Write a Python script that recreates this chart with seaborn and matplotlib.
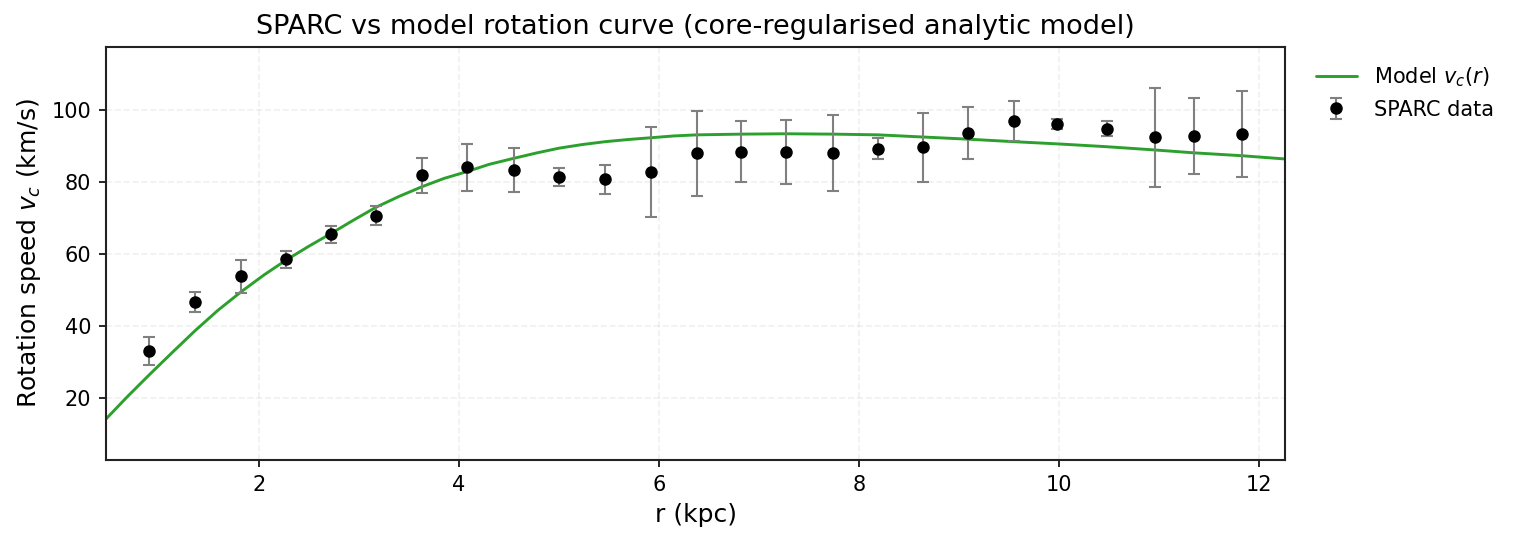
import numpy as np
import pandas as pd
import matplotlib
matplotlib.use("Agg")
import matplotlib.pyplot as plt
import seaborn as sns

r_data = [0.90, 1.36, 1.82, 2.27, 2.72, 3.17, 3.63, 4.08, 4.55, 5.00, 5.46, 5.92, 6.38,
          6.82, 7.27, 7.74, 8.19, 8.64, 9.09, 9.55, 9.98, 10.48, 10.96, 11.35, 11.83]
v_data = [33.0, 46.6, 53.8, 58.5, 65.5, 70.7, 81.9, 84.1, 83.3, 81.4, 80.7, 82.7, 88.0,
          88.4, 88.3, 88.0, 89.3, 89.6, 93.6, 97.0, 96.1, 94.8, 92.4, 92.7, 93.4]
v_err = [3.9, 2.8, 4.6, 2.4, 2.4, 2.6, 4.9, 6.5, 6.1, 2.6, 3.9, 12.5, 11.8,
         8.5, 8.9, 10.6, 3.0, 9.5, 7.3, 5.6, 1.5, 2.1, 13.8, 10.6, 12.0]

# model curve samples
r_model = [0.47, 0.68, 0.90, 1.13, 1.36, 1.59, 1.82, 2.05, 2.27, 2.50, 2.72, 2.95, 3.17,
           3.40, 3.63, 3.85, 4.08, 4.30, 4.55, 4.78, 5.00, 5.23, 5.46, 5.69, 5.92, 6.15,
           6.38, 6.60, 6.82, 7.27, 7.74, 8.19, 8.64, 9.09, 9.55, 9.98, 10.48, 10.96,
           11.35, 11.83, 12.26]
v_model = [14.2, 20.3, 26.4, 32.6, 38.7, 44.4, 49.5, 54.2, 58.3, 62.2, 65.7, 69.5, 73.0,
           76.0, 78.7, 81.0, 82.9, 84.9, 86.6, 88.1, 89.4, 90.4, 91.2, 91.8, 92.3, 92.8,
           93.1, 93.2, 93.3, 93.4, 93.3, 93.1, 92.5, 91.9, 91.2, 90.6, 89.8, 88.9,
           88.1, 87.3, 86.4]

df_model = pd.DataFrame({"r": r_model, "v": v_model})

sns.set_style("ticks")
plt.rcParams["font.family"] = ["DejaVu Sans"]
plt.rcParams["text.color"] = "black"
plt.rcParams["axes.labelcolor"] = "black"

fig = plt.figure(figsize=(1517 / 150, 542 / 150), dpi=150)
ax = fig.add_axes([0.0699, 0.1513, 0.7772, 0.762])

sns.lineplot(data=df_model, x="r", y="v", color="#2ca02c", lw=1.4,
             label=r"Model $v_c(r)$", ax=ax)
ax.errorbar(r_data, v_data, yerr=v_err, fmt="o", color="black", ms=5,
            ecolor="gray", elinewidth=1.0, capsize=3, capthick=1.0,
            label="SPARC data", zorder=3)

ax.set_xlim(0.47, 12.26)
ax.set_ylim(2.8, 117.5)
ax.set_xticks([2, 4, 6, 8, 10, 12])
ax.set_yticks([20, 40, 60, 80, 100])
ax.tick_params(labelsize=10, colors="black")
for s in ax.spines.values():
    s.set_color("#222222")
    s.set_linewidth(1.0)
ax.grid(True, ls="--", alpha=0.3)

ax.set_xlabel("r (kpc)", fontsize=12)
ax.set_ylabel(r"Rotation speed $v_c$ (km/s)", fontsize=12)
ax.set_title("SPARC vs model rotation curve (core-regularised analytic model)",
             fontsize=13, color="black")

ax.legend(loc="upper left", bbox_to_anchor=(1.01, 1.0), frameon=False, fontsize=10)

fig.savefig("out.png", dpi=150)
plt.close(fig)
